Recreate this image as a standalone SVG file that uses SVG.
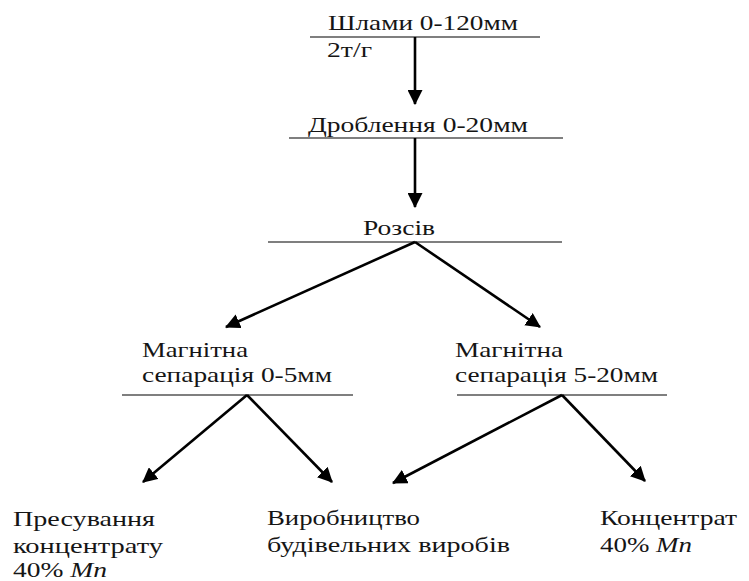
<svg xmlns="http://www.w3.org/2000/svg" width="749" height="581" viewBox="0 0 749 581">
<style>
text{font-family:'Liberation Serif','Times New Roman',serif;font-size:21px;fill:#151515}
.it{font-style:italic}
.bar{stroke:#555;stroke-width:1.6;fill:none}
.conn{stroke:#000;stroke-width:2.6;fill:none;marker-end:url(#ah)}
</style>
<defs>
<marker id="ah" viewBox="0 0 14 14" refX="13" refY="7" markerWidth="15" markerHeight="15" markerUnits="userSpaceOnUse" orient="auto">
<path d="M0,0 L14,7 L0,14 z" fill="#000"/>
</marker>
</defs>
<rect width="749" height="581" fill="#fff"/>
<g id="n-shlamy">
<text x="328" y="30" textLength="190" lengthAdjust="spacingAndGlyphs">Шлами 0-120мм</text>
<line class="bar" x1="310" y1="37" x2="540" y2="37"/>
<text x="327" y="57" textLength="45" lengthAdjust="spacingAndGlyphs">2т/г</text>
</g>
<g id="n-droblennia">
<text x="308" y="132" textLength="220" lengthAdjust="spacingAndGlyphs">Дроблення 0-20мм</text>
<line class="bar" x1="289" y1="138" x2="563" y2="138"/>
</g>
<g id="n-rozsiv">
<text x="363" y="235" textLength="72" lengthAdjust="spacingAndGlyphs">Розсів</text>
<line class="bar" x1="268" y1="242" x2="562" y2="242"/>
</g>
<g id="n-sep1">
<text x="142" y="357" textLength="106" lengthAdjust="spacingAndGlyphs">Магнітна</text>
<text x="142" y="382" textLength="190" lengthAdjust="spacingAndGlyphs">сепарація 0-5мм</text>
<line class="bar" x1="122" y1="395" x2="353" y2="395"/>
</g>
<g id="n-sep2">
<text x="455" y="357" textLength="108" lengthAdjust="spacingAndGlyphs">Магнітна</text>
<text x="455" y="382" textLength="203" lengthAdjust="spacingAndGlyphs">сепарація 5-20мм</text>
<line class="bar" x1="457" y1="395" x2="667" y2="395"/>
</g>
<g id="n-presuvannia">
<text x="13" y="526" textLength="142" lengthAdjust="spacingAndGlyphs">Пресування</text>
<text x="13" y="553" textLength="150" lengthAdjust="spacingAndGlyphs">концентрату</text>
<text x="13" y="577" textLength="94" lengthAdjust="spacingAndGlyphs">40% <tspan class="it">Mn</tspan></text>
</g>
<g id="n-vyrobnytstvo">
<text x="267" y="525" textLength="153" lengthAdjust="spacingAndGlyphs">Виробництво</text>
<text x="267" y="552" textLength="243" lengthAdjust="spacingAndGlyphs">будівельних виробів</text>
</g>
<g id="n-kontsentrat">
<text x="600" y="525" textLength="137" lengthAdjust="spacingAndGlyphs">Концентрат</text>
<text x="600" y="552" textLength="92" lengthAdjust="spacingAndGlyphs">40% <tspan class="it">Mn</tspan></text>
</g>
<g id="connectors">
<line class="conn" x1="415" y1="37" x2="415" y2="104"/>
<line class="conn" x1="415" y1="138" x2="415" y2="207"/>
<line class="conn" x1="415" y1="242" x2="226" y2="327"/>
<line class="conn" x1="415" y1="242" x2="540" y2="327"/>
<line class="conn" x1="247" y1="395" x2="143" y2="482"/>
<line class="conn" x1="247" y1="395" x2="332" y2="482"/>
<line class="conn" x1="562" y1="395" x2="393" y2="483"/>
<line class="conn" x1="562" y1="395" x2="645" y2="481"/>
</g>
</svg>
